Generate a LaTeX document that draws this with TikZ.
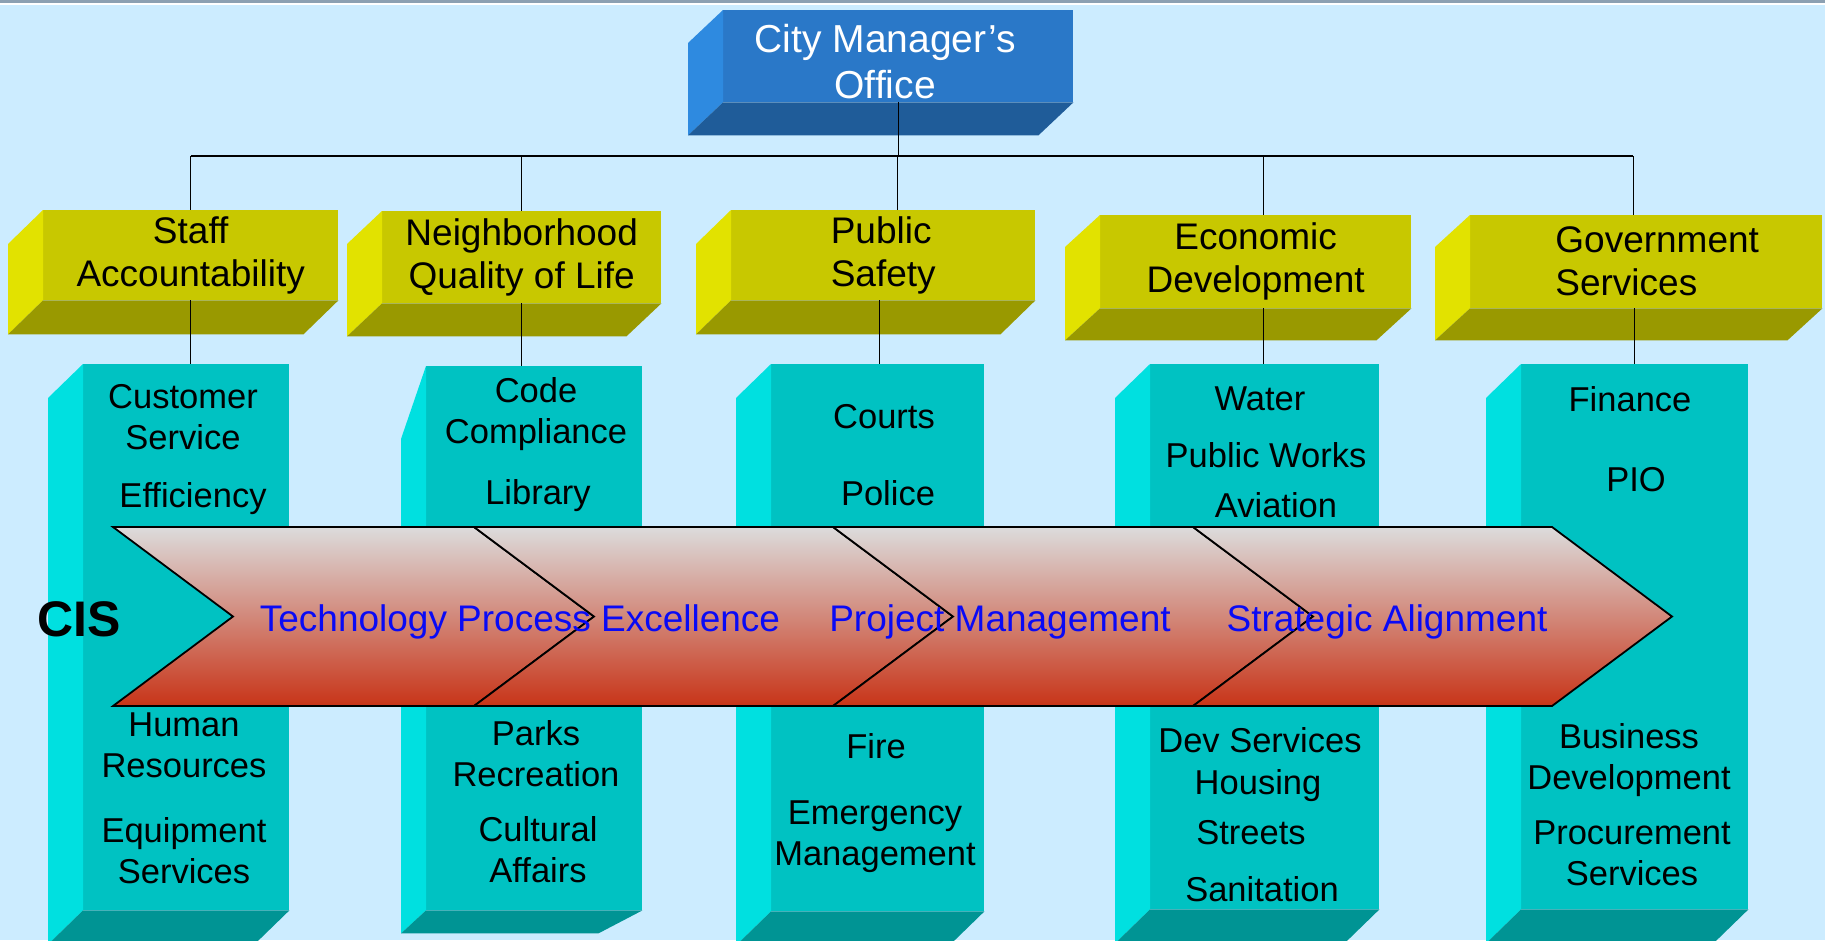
\documentclass[tikz,border=0pt]{standalone}
\usepackage{fontspec}
\setmainfont{Liberation Sans}
\definecolor{sky}{RGB}{204,236,255}
\definecolor{strip}{RGB}{140,160,178}
\definecolor{officefront}{RGB}{42,120,200}
\definecolor{officeside}{RGB}{46,138,224}
\definecolor{officebottom}{RGB}{31,92,153}
\definecolor{goalfront}{RGB}{200,200,0}
\definecolor{goalside}{RGB}{226,226,0}
\definecolor{goalbottom}{RGB}{153,153,0}
\definecolor{deptfront}{RGB}{0,194,194}
\definecolor{deptside}{RGB}{0,224,224}
\definecolor{deptbottom}{RGB}{0,148,148}
\definecolor{bandtop}{RGB}{220,220,220}
\definecolor{bandmid}{RGB}{214,162,156}
\definecolor{bandlow}{RGB}{200,52,24}
\definecolor{themeblue}{RGB}{10,10,245}
\tikzset{every picture/.style = {x=1pt, y=-1pt}}
\tikzset{office/.style = {fill=officefront, anchor=north west, inner sep=0, minimum width=350pt, minimum height=92pt}}
\tikzset{officetext/.style = {text=white, inner sep=0, align=center, font=\fontsize{39}{46}\selectfont}}
\tikzset{goal/.style = {fill=goalfront, anchor=north west, inner sep=0, minimum height=90pt, align=center, font=\fontsize{37}{43}\selectfont}}
\tikzset{dept/.style = {fill=deptfront, anchor=north west, inner sep=0}}
\tikzset{deptitem/.style = {inner sep=0, align=center, font=\fontsize{34.5}{41}\selectfont}}
\tikzset{link/.style = {line width=1.3pt}}
\tikzset{busline/.style = {line width=2.5pt}}
\tikzset{band/.style = {draw=black, line width=1.8pt, top color=bandtop, middle color=bandmid, bottom color=bandlow}}
\tikzset{theme/.style = {inner sep=0, text=themeblue, font=\fontsize{37}{44}\selectfont}}
\newcommand{\boxsides}[5]{%
  \fill[#4] (#1.north west) -- ++(#2,#3) -- ([shift={(#2,#3)}]#1.south west) -- (#1.south west) -- cycle;
  \fill[#5] (#1.south west) -- (#1.south east) -- ([shift={(#2,#3)}]#1.south east) -- ([shift={(#2,#3)}]#1.south west) -- cycle;}

\begin{document}
\begin{tikzpicture}
  \useasboundingbox (0,0) rectangle (1825,940);
  \clip (0,0) rectangle (1825,940);
  \fill[sky] (0,0) rectangle (1825,940);
  \fill[strip] (0,0) rectangle (1825,2.5);
  \fill[white] (0,2.5) rectangle (1825,4.5);

  \node[office] (office) at (723,10) {};
  \boxsides{office}{-35}{33}{officeside}{officebottom}
  \node[officetext] (officelabel) at ([shift={(-13,5)}]office.center) {City Manager's\\Office};

  \node[goal, minimum width=295pt] (staff) at (43,210) {Staff\\Accountability};
  \node[goal, minimum width=279pt, minimum height=92pt] (nbhd) at (382,211) {Neighborhood\\Quality of Life};
  \node[goal, minimum width=304pt, align=left] (psafety) at (731,210) {Public\\Safety};
  \node[goal, minimum width=311pt, minimum height=93pt] (econ) at (1100,215) {Economic\\Development};
  \node[goal, minimum width=352pt, minimum height=93pt, align=left] (govsvc) at (1470,215) {\hspace*{22pt}Government\\\hspace*{22pt}Services};
  \boxsides{staff}{-35}{34}{goalside}{goalbottom}
  \boxsides{nbhd}{-35}{33}{goalside}{goalbottom}
  \boxsides{psafety}{-35}{34}{goalside}{goalbottom}
  \boxsides{econ}{-35}{32}{goalside}{goalbottom}
  \boxsides{govsvc}{-35}{32}{goalside}{goalbottom}

  \node[dept, minimum width=206pt, minimum height=546pt] (col1) at (83,364) {};
  \node[dept, minimum width=216pt, minimum height=544pt] (col2) at (426,366) {};
  \node[dept, minimum width=213pt, minimum height=547pt] (col3) at (771,364) {};
  \node[dept, minimum width=229pt, minimum height=545pt] (col4) at (1150,364) {};
  \node[dept, minimum width=227pt, minimum height=545pt] (col5) at (1521,364) {};
  \boxsides{col1}{-35}{34}{deptside}{deptbottom}
  \fill[deptside] (col2.north west) -- ++(-25,73) -- ([shift={(-25,23)}]col2.south west) -- (col2.south west) -- cycle;
  \fill[deptbottom] (col2.south west) -- (col2.south east) -- ([shift={(-44,23)}]col2.south east) -- ([shift={(-25,23)}]col2.south west) -- cycle;
  \boxsides{col3}{-35}{34}{deptside}{deptbottom}
  \boxsides{col4}{-35}{34}{deptside}{deptbottom}
  \boxsides{col5}{-35}{34}{deptside}{deptbottom}

  \coordinate (bus) at (0,156);
  \draw[link] (office.south) -- (office.south |- bus);
  \draw[busline] (staff.north |- bus) -- ([xshift=-13pt]govsvc.north |- bus);
  \draw[link] (staff.north |- bus) -- (staff.north);
  \draw[link] (nbhd.north |- bus) -- (nbhd.north);
  \draw[link] ([xshift=14pt]psafety.north |- bus) -- ([xshift=14pt]psafety.north);
  \draw[link] ([xshift=8pt]econ.north |- bus) -- ([xshift=8pt]econ.north);
  \draw[link] ([xshift=-13pt]govsvc.north |- bus) -- ([xshift=-13pt]govsvc.north);

  \draw[link] (staff.south) -- (staff.south |- col1.north);
  \draw[link] (nbhd.south) -- (nbhd.south |- col2.north);
  \draw[link] ([xshift=-4pt]psafety.south) -- ([xshift=-4pt]psafety.south |- col3.north);
  \draw[link] ([xshift=8pt]econ.south) -- ([xshift=8pt]econ.south |- col4.north);
  \draw[link] ([xshift=-12pt]govsvc.south) -- ([xshift=-12pt]govsvc.south |- col5.north);

  \node[deptitem] (cust) at (183,417) {Customer\\Service};
  \node[deptitem] (eff) at (193,499) {Efficiency};
  \node[deptitem] (hr) at (184,745) {Human\\Resources};
  \node[deptitem] (equip) at (184,851) {Equipment\\Services};
  \node[deptitem] (code) at (536,414) {Code\\Compliance};
  \node[deptitem] (lib) at (538,496) {Library};
  \node[deptitem] (parks) at (536,754) {Parks\\Recreation};
  \node[deptitem] (cultural) at (538,850) {Cultural\\Affairs};
  \node[deptitem] (courts) at (884,417) {Courts};
  \node[deptitem] (police) at (888,493) {Police};
  \node[deptitem] (fire) at (876,746) {Fire};
  \node[deptitem] (emerg) at (875,837) {Emergency\\Management};
  \node[deptitem] (water) at (1260,399) {Water};
  \node[deptitem] (pworks) at (1266,455) {Public Works};
  \node[deptitem] (aviation) at (1276,505) {Aviation};
  \node[deptitem] (devsvc) at (1260,740) {Dev Services};
  \node[deptitem] (housing) at (1258,786) {Housing};
  \node[deptitem] (streets) at (1251,833) {Streets};
  \node[deptitem] (sanit) at (1262,889) {Sanitation};
  \node[deptitem] (finance) at (1630,399) {Finance};
  \node[deptitem] (pio) at (1636,480) {PIO};
  \node[deptitem] (busdev) at (1629,760) {Business\\Development};
  \node[deptitem] (procure) at (1632,853) {Procurement\\Services};

  \foreach \a/\b in {113/474, 474/833, 833/1193, 1193/1552}
    \draw[band] (\a,527) -- (\b,527) -- (\b+120,616.5) -- (\b,706) -- (\a,706) -- (\a+120,616.5) -- cycle;

  \node[font=\bfseries\fontsize{50}{60}\selectfont, inner sep=0] (cis) at (79,619) {CIS};
  \node[theme] (tpe) at (520,622) {Technology Process Excellence};
  \node[theme] (pm) at (1000,622) {Project Management};
  \node[theme] (sa) at (1387,622) {Strategic Alignment};
\end{tikzpicture}
\end{document}
